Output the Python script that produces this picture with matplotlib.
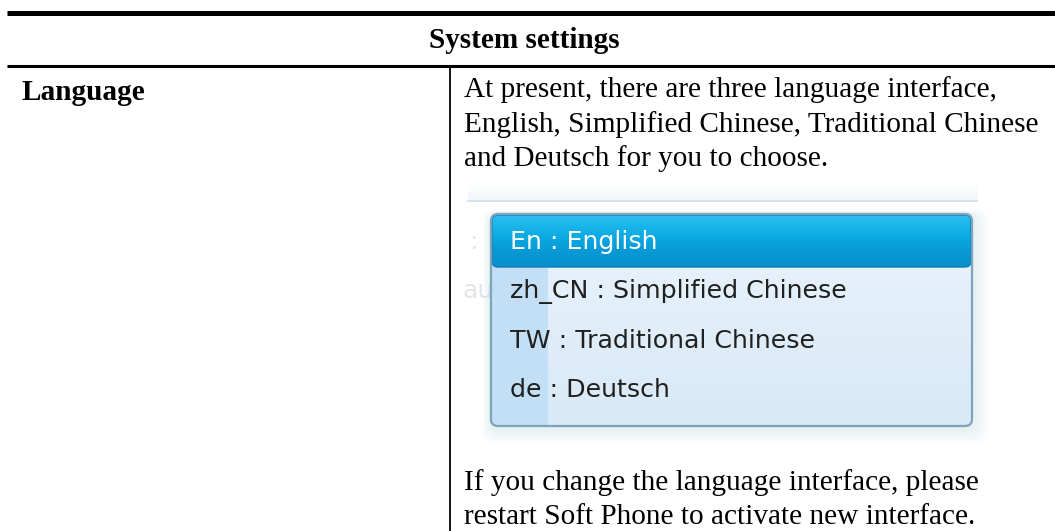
import numpy as np
import matplotlib.pyplot as plt
from matplotlib.colors import LinearSegmentedColormap
from matplotlib.patches import FancyBboxPatch, Rectangle

title = "System settings"
item_name = "Language"
intro_lines = ["At present, there are three language interface,",
               "English, Simplified Chinese, Traditional Chinese",
               "and Deutsch for you to choose."]
menu_items = ["En : English", "zh_CN : Simplified Chinese",
              "TW : Traditional Chinese", "de : Deutsch"]
outro_lines = ["If you change the language interface, please",
               "restart Soft Phone to activate new interface."]

W, H = 1055, 531
fig = plt.figure(figsize=(W / 100, H / 100), dpi=100)
ax = fig.add_axes([0, 0, 1, 1])
ax.set_xlim(0, W)
ax.set_ylim(H, 0)
ax.axis("off")

serif = "Liberation Serif"
fs = 21.1

# table rules
ax.plot([7, W], [12.5, 12.5], color="black", lw=3.6, solid_capstyle="butt")
ax.plot([7, W], [65.5, 65.5], color="black", lw=2.2, solid_capstyle="butt")
ax.plot([450, 450], [66, H], color="black", lw=1.3)

ax.text(524, 40, title, family=serif, weight="bold", fontsize=fs,
        ha="center", va="center")
ax.text(22, 92, item_name, family=serif, weight="bold", fontsize=fs,
        ha="left", va="center")

for i, line in enumerate(intro_lines):
    ax.text(464, 90 + i * 34.5, line, family=serif, fontsize=fs,
            ha="left", va="center")
for i, line in enumerate(outro_lines):
    ax.text(464, 490 + i * 34, line, family=serif, fontsize=fs,
            ha="left", va="baseline")

# screenshot backdrop: faint haze, thin line and ghost letters
haze = np.linspace(0, 1, 20).reshape(-1, 1)
hz = LinearSegmentedColormap.from_list("hz", ["#ffffff", "#f2f6fa"])
ax.imshow(haze, cmap=hz, extent=[468, 978, 201, 182], aspect="auto", zorder=0)
ax.plot([468, 977], [201, 201], color="#d5e4f0", lw=1.4, zorder=1)

ui = "DejaVu Sans"
ufs = 18.2
ax.text(470, 242, ":", family=ui, fontsize=ufs, color="#e4e7ea",
        va="center", zorder=1)
ax.text(462, 291, "au", family=ui, fontsize=ufs, color="#e2e5e8",
        va="center", zorder=1)

box_x, box_y, box_w, box_h = 491, 214, 481, 212

# soft glow around dropdown
for k in range(14, 0, -1):
    ax.add_patch(FancyBboxPatch((box_x - k * 0.6, box_y - k * 0.3),
                                box_w + k * 1.8, box_h + k * 1.6,
                                boxstyle="round,pad=0,rounding_size=12",
                                fc="#b9d4ec", ec="none", alpha=0.025, zorder=1))

# dropdown body with gentle vertical gradient
body = FancyBboxPatch((box_x, box_y), box_w, box_h,
                      boxstyle="round,pad=0,rounding_size=7",
                      fc="#e3eff9", ec="none", zorder=2)
ax.add_patch(body)
bg = np.linspace(0, 1, 60).reshape(-1, 1)
bcm = LinearSegmentedColormap.from_list("bd", ["#eaf3fb", "#d8e9f7"])
bim = ax.imshow(bg, cmap=bcm, extent=[box_x, box_x + box_w, box_y + box_h, box_y],
                aspect="auto", zorder=2)
bim.set_clip_path(body)
strip = Rectangle((box_x, 266), 57, box_h - 52, fc="#c3dff5", ec="none", zorder=2)
ax.add_patch(strip)
strip.set_clip_path(body)
ax.add_patch(FancyBboxPatch((box_x, box_y), box_w, box_h,
                            boxstyle="round,pad=0,rounding_size=7",
                            fc="none", ec="#7fa3bd", lw=1.6, zorder=6))

# highlighted row with gradient
grad = np.linspace(0, 1, 50).reshape(-1, 1)
cmap = LinearSegmentedColormap.from_list(
    "hl", ["#2cc0ef", "#0eaee6", "#079bd7", "#0a8fcc"])
hl = FancyBboxPatch((box_x + 1, box_y + 1), box_w - 2, 52,
                    boxstyle="round,pad=0,rounding_size=6",
                    fc="none", ec="#0b7fb8", lw=1.0, zorder=4)
ax.add_patch(hl)
im = ax.imshow(grad, cmap=cmap,
               extent=[box_x + 1, box_x + box_w - 1, box_y + 53, box_y + 1],
               aspect="auto", zorder=3)
im.set_clip_path(hl)

ys = [242, 291, 341, 390]
for i, (label, y) in enumerate(zip(menu_items, ys)):
    ax.text(510, y, label, family=ui, fontsize=ufs, va="center", ha="left",
            color="white" if i == 0 else "#202020", zorder=5)

fig.savefig("out.png", dpi=100)
